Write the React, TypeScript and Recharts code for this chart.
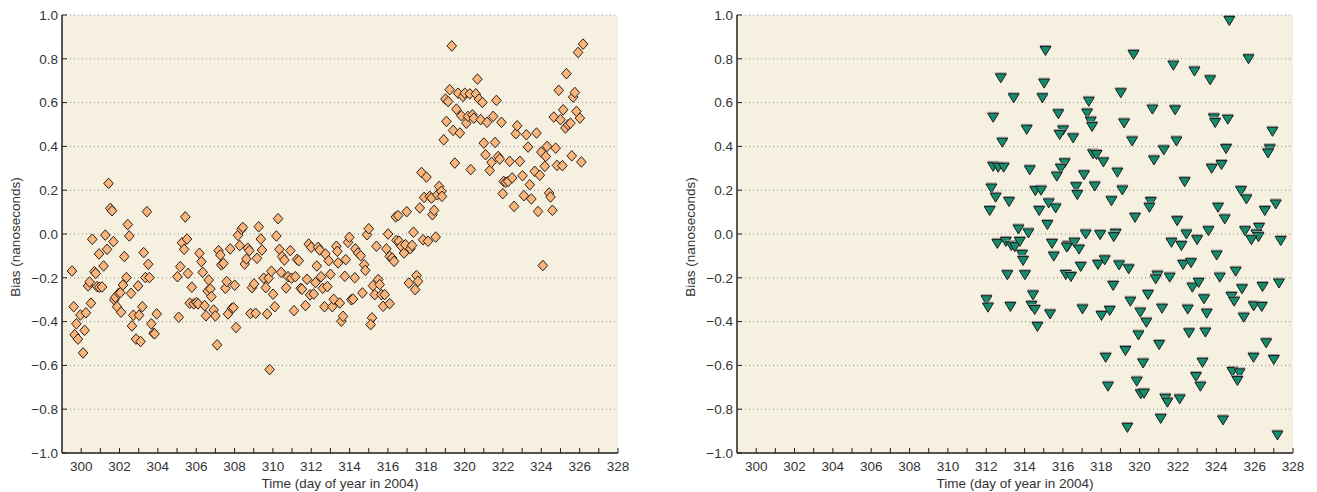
import React from 'react';
import { ScatterChart, Scatter, XAxis, YAxis, CartesianGrid } from 'recharts';

// ---- axis ticks ----
const xTicks = [300, 301, 302, 303, 304, 305, 306, 307, 308, 309, 310, 311, 312, 313, 314, 315, 316, 317, 318, 319, 320, 321, 322, 323, 324, 325, 326, 327, 328];
const yTicks = [-1, -0.8, -0.6, -0.4, -0.2, 0, 0.2, 0.4, 0.6, 0.8, 1];
const xDomain = [299, 328];
const yDomain = [-1, 1];

// ---- left panel (diamonds) ----
const leftDays = [
  299.52, 299.61, 299.75, 299.66, 299.83, 299.96, 300.18, 300.1, 300.25, 300.51, 300.36, 300.44, 300.69, 300.76, 300.58, 300.83, 300.95, 301.09, 300.93, 301.17,
  301.26, 301.35, 301.43, 301.52, 301.61, 301.68, 301.73, 301.87, 301.78, 301.96, 302.08, 302.04, 302.18, 302.25, 302.36, 302.43, 302.51, 302.6, 302.65, 302.72,
  302.86, 302.97, 303.02, 303.1, 303.19, 303.26, 303.35, 303.43, 303.5, 303.56, 303.66, 303.78, 303.83, 303.94,
  305.02, 305.09, 305.17, 305.26, 305.37, 305.43, 305.52, 305.57, 305.77, 305.66, 305.87, 306.01, 306.1, 306.17, 306.27, 306.34, 306.44, 306.51, 306.65, 306.6,
  306.74, 306.79, 306.91, 307.0, 307.09, 307.17, 307.26, 307.31, 307.42, 307.52, 307.59, 307.66, 307.77, 307.87, 307.94, 308.01, 308.08, 308.18, 308.27, 308.36,
  308.43, 308.53, 308.62, 308.69, 308.77, 308.83, 308.91, 309.02, 309.1, 309.17, 309.26, 309.37, 309.43, 309.52, 309.63, 309.7, 309.78, 309.83, 309.92, 310.01,
  310.1, 310.18, 310.27, 310.34, 310.43, 310.48, 310.6, 310.69, 310.79, 310.91, 310.97, 311.1, 311.17, 311.26, 311.35, 311.45, 311.52, 311.7, 311.78, 311.87,
  311.94, 312.0, 312.13, 312.22, 312.29, 312.36, 312.44, 312.51, 312.6, 312.69, 312.74, 312.84, 312.91, 313.0, 313.1, 313.17,
  313.31, 313.36, 313.4, 313.49, 313.57, 313.66, 313.8, 313.75, 313.92, 313.99, 314.09, 314.18, 314.27, 314.3, 314.44, 314.58, 314.67, 314.76, 314.82, 314.91,
  315.0, 315.17, 315.1, 315.22, 315.31, 315.4, 315.49, 315.57, 315.66, 315.75, 315.83, 315.92, 316.01, 316.09, 316.09, 316.22, 316.32, 316.41, 316.53, 316.44,
  316.58, 316.7, 316.84, 316.91, 316.98, 317.09, 317.17, 317.26, 317.33, 317.42, 317.49, 317.57, 317.66, 317.75, 317.83, 317.89, 318.01, 318.09, 318.18, 318.27,
  318.32, 318.41, 318.49, 318.58, 318.67, 318.79, 318.82, 324.08,
  319.33, 318.91, 319.0, 319.14, 319.22, 319.05, 319.4, 319.49, 319.57, 319.66, 319.75, 319.83, 319.92, 320.01, 320.09, 320.18, 320.27, 320.32, 320.41, 320.48,
  320.58, 320.67, 320.75, 320.84, 320.93, 321.0, 321.09, 321.17, 321.31, 321.4, 321.49, 321.59, 321.66, 321.75, 321.83, 321.92, 321.99, 322.04, 322.15, 322.27,
  322.35, 322.48, 322.58, 322.67, 322.74, 322.88, 323.02, 323.09, 323.22, 323.31, 323.4, 323.48, 323.66, 323.75, 323.83, 323.92, 324.0, 324.18, 324.23, 324.3,
  324.41, 324.48, 324.58, 324.65, 324.75, 324.82, 324.91, 325.0, 325.1, 325.14, 325.26, 325.31, 325.4, 325.52, 325.59, 325.66, 325.75, 325.83, 325.92, 326.01,
  326.09, 326.18
];
const leftBias = [
  -0.169, -0.332, -0.41, -0.46, -0.48, -0.37, -0.44, -0.543, -0.36, -0.316, -0.237, -0.219, -0.172, -0.18, -0.024, -0.24, -0.243, -0.242, -0.091, -0.146,
  -0.005, -0.07, 0.231, 0.117, 0.106, -0.035, -0.301, -0.332, -0.289, -0.271, -0.357, -0.268, -0.233, -0.103, -0.199, 0.043, -0.009, -0.271, -0.42, -0.371,
  -0.48, -0.237, -0.371, -0.491, -0.332, -0.085, -0.199, 0.102, -0.138, -0.199, -0.41, -0.453, -0.456, -0.365,
  -0.195, -0.38, -0.149, -0.04, -0.07, 0.078, -0.023, -0.18, -0.243, -0.316, -0.319, -0.313, -0.319, -0.088, -0.126, -0.175, -0.327, -0.373, -0.21, -0.26,
  -0.251, -0.286, -0.347, -0.374, -0.506, -0.076, -0.096, -0.141, -0.134, -0.248, -0.217, -0.365, -0.068, -0.339, -0.336, -0.234, -0.427, -0.006, -0.053, 0.021,
  0.03, -0.137, -0.114, -0.065, -0.076, -0.363, -0.245, -0.228, -0.362, -0.111, 0.033, -0.023, -0.073, -0.202, -0.245, -0.365, -0.202, -0.619, -0.17, -0.275,
  -0.332, -0.009, 0.07, -0.07, -0.175, -0.103, -0.119, -0.246, -0.195, -0.076, -0.202, -0.35, -0.195, -0.116, -0.122, -0.248, -0.252, -0.327, -0.207, -0.046,
  -0.278, -0.061, -0.274, -0.222, -0.146, -0.061, -0.073, -0.195, -0.248, -0.332, -0.091, -0.24, -0.122, -0.184, -0.332, -0.298,
  -0.056, -0.079, -0.132, -0.315, -0.398, -0.376, -0.117, -0.193, -0.038, -0.015, -0.3, -0.297, -0.2, -0.068, -0.087, -0.099, -0.269, -0.14, -0.166, -0.003,
  0.024, -0.383, -0.414, -0.236, -0.277, -0.056, -0.208, -0.231, -0.277, -0.33, -0.277, -0.068, 0.0, -0.318, -0.102, -0.11, -0.125, 0.078, 0.084, -0.029,
  -0.033, -0.056, -0.087, -0.049, 0.102, -0.224, -0.067, -0.052, 0.008, -0.254, -0.19, -0.216, 0.119, 0.281, -0.026, 0.167, 0.26, -0.033, 0.172, 0.164,
  0.088, 0.108, -0.014, 0.179, 0.217, 0.195, 0.172, -0.144,
  0.859, 0.43, 0.616, 0.605, 0.659, 0.514, 0.473, 0.324, 0.57, 0.643, 0.461, 0.54, 0.628, 0.643, 0.506, 0.537, 0.64, 0.294, 0.544, 0.529,
  0.64, 0.707, 0.616, 0.522, 0.601, 0.415, 0.362, 0.51, 0.29, 0.327, 0.537, 0.418, 0.61, 0.354, 0.342, 0.51, 0.184, 0.24, 0.236, 0.24,
  0.332, 0.256, 0.126, 0.458, 0.494, 0.332, 0.266, 0.175, 0.453, 0.397, 0.225, 0.16, 0.286, 0.461, 0.103, 0.268, 0.374, 0.309, 0.354, 0.4,
  0.187, 0.169, 0.108, 0.534, 0.392, 0.313, 0.656, 0.522, 0.312, 0.567, 0.484, 0.732, 0.499, 0.506, 0.357, 0.625, 0.646, 0.56, 0.829, 0.529,
  0.329, 0.867
];

// ---- right panel (triangles) ----
const rightDays = [
  315.09, 319.68, 321.76, 322.86, 323.68, 324.68, 325.68, 312.76, 315.02, 313.43, 314.93, 317.35, 319.02, 312.36, 315.76, 317.26, 317.45, 317.52, 319.19, 320.67,
  321.85, 323.87, 323.94, 324.6, 314.11, 316.01, 315.83, 316.53, 312.84, 319.61, 321.92, 326.93, 321.26, 324.51, 326.79, 326.7, 317.57, 317.75, 318.11, 320.75,
  312.36, 312.62, 312.91, 314.27, 316.09, 315.89, 315.68, 317.1, 318.84, 323.76, 324.27, 322.35, 312.27, 312.49, 314.56, 314.86, 316.69, 316.75, 317.66, 319.1,
  325.29, 325.57, 313.19, 312.18, 315.26, 315.62, 314.76, 318.53, 320.58, 320.51, 324.09, 326.53, 327.1, 315.19, 319.76, 321.96, 324.44, 313.68, 314.2, 317.19,
  317.94, 318.75, 318.65, 322.44, 323.59, 325.5, 326.23, 326.09, 326.2, 323.0, 327.36, 325.83, 312.58, 313.02, 313.31, 313.49, 313.75, 315.43, 316.27, 316.6,
  316.84, 321.66, 322.18, 316.2,
  313.87, 313.92, 315.52, 316.93, 317.83, 318.18, 318.93, 319.43, 324.02, 322.27, 322.68, 313.1, 314.02, 316.15, 316.42, 320.93, 320.84, 321.57, 324.18, 325.01,
  318.62, 322.75, 323.08, 325.34, 326.41, 327.27, 314.44, 312.01, 312.09, 313.26, 314.36, 314.53, 315.33, 317.02, 318.01, 318.44, 319.52, 320.44, 320.04, 321.17,
  322.51, 323.36, 323.5, 324.79, 324.93, 325.95, 326.37, 325.43, 314.67, 320.35, 322.58, 323.43, 319.94, 321.02, 326.6, 319.26, 318.23, 320.18, 323.28, 325.94,
  327.0, 324.84, 325.21, 325.1, 322.94, 323.17, 318.35, 319.85, 320.06, 320.23, 321.34, 321.45, 322.09, 321.1, 324.35, 319.36, 327.19
];
const rightBias = [
  0.838, 0.82, 0.771, 0.744, 0.704, 0.975, 0.8, 0.713, 0.689, 0.622, 0.622, 0.606, 0.645, 0.533, 0.549, 0.552, 0.515, 0.491, 0.507, 0.57,
  0.567, 0.53, 0.509, 0.524, 0.478, 0.475, 0.454, 0.439, 0.419, 0.425, 0.425, 0.469, 0.384, 0.39, 0.389, 0.37, 0.366, 0.363, 0.329, 0.338,
  0.309, 0.305, 0.305, 0.293, 0.325, 0.3, 0.264, 0.27, 0.282, 0.3, 0.317, 0.239, 0.21, 0.168, 0.198, 0.2, 0.216, 0.18, 0.219, 0.201,
  0.198, 0.16, 0.148, 0.107, 0.142, 0.119, 0.107, 0.152, 0.148, 0.122, 0.122, 0.107, 0.137, 0.043, 0.076, 0.061, 0.069, 0.023, 0.005, 0.0,
  -0.003, 0.003, -0.012, 0.0, 0.015, 0.015, 0.03, 0.0, -0.012, -0.026, -0.03, -0.026, -0.043, -0.034, -0.053, -0.058, -0.034, -0.043, -0.053, -0.038,
  -0.069, -0.038, -0.053, -0.06,
  -0.093, -0.121, -0.101, -0.148, -0.139, -0.118, -0.141, -0.159, -0.096, -0.139, -0.131, -0.186, -0.186, -0.185, -0.194, -0.188, -0.205, -0.197, -0.197, -0.17,
  -0.235, -0.243, -0.221, -0.25, -0.24, -0.224, -0.278, -0.3, -0.334, -0.331, -0.326, -0.345, -0.365, -0.342, -0.372, -0.349, -0.307, -0.276, -0.357, -0.339,
  -0.343, -0.296, -0.362, -0.285, -0.307, -0.328, -0.331, -0.38, -0.422, -0.403, -0.451, -0.448, -0.461, -0.505, -0.497, -0.532, -0.563, -0.589, -0.586, -0.563,
  -0.573, -0.628, -0.634, -0.669, -0.651, -0.695, -0.695, -0.672, -0.73, -0.727, -0.75, -0.768, -0.753, -0.842, -0.849, -0.883, -0.918
];

const leftData = leftDays.map((d, i) => ({ day: d, bias: leftBias[i] }));
const rightData = rightDays.map((d, i) => ({ day: d, bias: rightBias[i] }));

const FONT = '"Liberation Sans", Arial, Helvetica, sans-serif';
const AXIS = '#222';
const TXT = '#333';
const BG = '#F6F0E1';

const fmtY = (v: number) => (v < 0 ? '\u2212' + Math.abs(v).toFixed(1) : v.toFixed(1));

const BottomTick = (p: any) => {
  const { x, y, payload } = p;
  const v = payload.value;
  return (
    <g>
      <line x1={x} x2={x} y1={y} y2={y - 5} stroke={AXIS} strokeWidth={1} />
      {v % 2 === 0 ? (
        <text x={x} y={y + 18} textAnchor="middle" fontSize={13.5} fontFamily={FONT} fill={TXT}>{v}</text>
      ) : null}
    </g>
  );
};
const TopTick = (p: any) => {
  const { x, y } = p;
  return <line x1={x} x2={x} y1={y} y2={y + 5} stroke={AXIS} strokeWidth={1} />;
};
const LeftTick = (p: any) => {
  const { x, y, payload } = p;
  return (
    <g>
      <line x1={x} x2={x + 5} y1={y} y2={y} stroke={AXIS} strokeWidth={1} />
      <text x={x - 4} y={y + 4.8} textAnchor="end" fontSize={13.5} fontFamily={FONT} fill={TXT}>{fmtY(payload.value)}</text>
    </g>
  );
};
const RightTick = (p: any) => {
  const { x, y } = p;
  return <line x1={x} x2={x - 5} y1={y} y2={y} stroke={AXIS} strokeWidth={1} />;
};

const XTitle = (p: any) => {
  const vb = p.viewBox || {};
  return (
    <text x={vb.x + vb.width / 2} y={vb.y + 35} textAnchor="middle" fontSize={13.5} fontFamily={FONT} fill={TXT}>
      Time (day of year in 2004)
    </text>
  );
};
const YTitle = (p: any) => {
  const vb = p.viewBox || {};
  const cx = (vb.x || 0) + 15;
  const cy = (vb.y || 0) + (vb.height || 0) / 2 + 3;
  return (
    <text x={cx} y={cy} transform={`rotate(-90, ${cx}, ${cy})`} textAnchor="middle" dominantBaseline="central" fontSize={13.5} fontFamily={FONT} fill={TXT}>
      Bias (nanoseconds)
    </text>
  );
};

const Diamond = (p: any) => {
  const { cx, cy } = p;
  if (cx == null || cy == null) return null;
  return (
    <polygon
      points={`${cx},${cy - 5.3} ${cx + 4.8},${cy} ${cx},${cy + 5.3} ${cx - 4.8},${cy}`}
      fill="#F9B57B"
      stroke="#2a2019"
      strokeWidth={1}
    />
  );
};
const TriDown = (p: any) => {
  const { cx, cy } = p;
  if (cx == null || cy == null) return null;
  return (
    <g>
      <line x1={cx - 5.5} x2={cx + 5.5} y1={cy - 5} y2={cy - 5} stroke="#9a9a9a" strokeWidth={1} />
      <polygon
        points={`${cx - 5.5},${cy - 4} ${cx + 5.5},${cy - 4} ${cx},${cy + 5}`}
        fill="#148C6E"
        stroke="#1c1c1c"
        strokeWidth={1}
      />
    </g>
  );
};

const Panel = ({ data, shape }: { data: { day: number; bias: number }[]; shape: any }) => (
  <ScatterChart width={660} height={492} margin={{ top: 15, right: 42, bottom: 0, left: 0 }}>
    <CartesianGrid vertical={false} stroke="#8a8a8a" strokeDasharray="1 3" fill={BG} fillOpacity={1} />
    <XAxis
      dataKey="day"
      type="number"
      domain={xDomain}
      ticks={xTicks}
      allowDataOverflow
      height={39}
      tickSize={0}
      tickMargin={0}
      tickLine={false}
      interval={0}
      axisLine={{ stroke: AXIS, strokeWidth: 1.5 }}
      tick={<BottomTick />}
      label={<XTitle />}
    />
    <XAxis
      xAxisId="top"
      orientation="top"
      type="number"
      domain={xDomain}
      ticks={xTicks}
      allowDataOverflow
      height={0}
      tickSize={0}
      tickMargin={0}
      tickLine={false}
      interval={0}
      axisLine={{ stroke: AXIS, strokeWidth: 1.5 }}
      tick={<TopTick />}
    />
    <YAxis
      dataKey="bias"
      type="number"
      domain={yDomain}
      ticks={yTicks}
      allowDataOverflow
      width={62}
      tickSize={0}
      tickMargin={0}
      tickLine={false}
      interval={0}
      axisLine={{ stroke: AXIS, strokeWidth: 1.5 }}
      tick={<LeftTick />}
      label={<YTitle />}
    />
    <YAxis
      yAxisId="right"
      orientation="right"
      type="number"
      domain={yDomain}
      ticks={yTicks}
      allowDataOverflow
      width={0}
      tickSize={0}
      tickMargin={0}
      tickLine={false}
      interval={0}
      axisLine={{ stroke: AXIS, strokeWidth: 1.5 }}
      tick={<RightTick />}
    />
    <Scatter data={data} shape={shape} isAnimationActive={false} />
  </ScatterChart>
);

export default function App() {
  return (
    <div style={{ position: 'absolute', left: 0, top: 0, width: 1317, height: 492, background: '#fff' }}>
      <div style={{ position: 'absolute', left: 0, top: 0 }}>
        <Panel data={leftData} shape={Diamond} />
      </div>
      <div style={{ position: 'absolute', left: 675, top: 0 }}>
        <Panel data={rightData} shape={TriDown} />
      </div>
    </div>
  );
}
